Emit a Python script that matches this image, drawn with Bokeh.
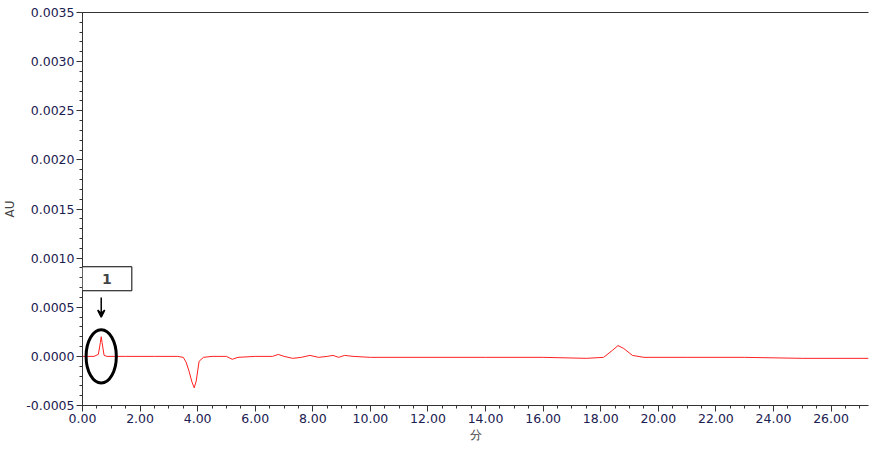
from bokeh.plotting import figure
from bokeh.models import (Range1d, SingleIntervalTicker, FixedTicker, PrintfTickFormatter, LinearAxis,
                          Label, Arrow, VeeHead, Ellipse, ColumnDataSource)
from bokeh.embed import file_html
from bokeh.resources import INLINE

# chromatogram trace (min, AU)
time = [0.0, 0.4, 0.55, 0.62, 0.65, 0.68, 0.75, 0.85, 1.5, 2.5, 3.3, 3.5, 3.6, 3.7, 3.8, 3.88,
        3.95, 4.05, 4.2, 4.5, 5.0, 5.2, 5.4, 6.0, 6.6, 6.8, 7.0, 7.3, 7.6, 7.9, 8.2, 8.5, 8.7,
        8.9, 9.1, 9.4, 10.0, 12.0, 14.0, 16.0, 17.5, 18.1, 18.4, 18.6, 18.8, 19.1, 19.5, 21.0,
        23.0, 25.0, 27.3]
au = [0.0, 0.0, 0.00002, 0.00014, 0.0002, 0.00014, 0.00001, 0.0, 0.0, 0.0, 0.0, -0.00001, -0.00006,
      -0.00015, -0.00026, -0.00032, -0.00025, -0.00005, -0.00001, 0.0, 0.0, -0.00003, -0.00001,
      0.0, 0.0, 0.00002, 0.0, -0.00002, -0.00001, 0.00001, -0.00001, 0.0, 0.00001, -0.00001,
      0.00001, 0.0, -0.00001, -0.00001, -0.00001, -0.00001, -0.00002, -0.00001, 0.00006,
      0.00011, 0.00008, 0.00001, -0.00001, -0.00001, -0.00001, -0.00002, -0.00002]

tick_color = "#1a2050"
font = "DejaVu Sans"

p = figure(width=871, height=445, output_backend="svg", toolbar_location=None,
           x_range=Range1d(0, 27.3), y_range=Range1d(-0.0005, 0.0035),
           min_border_left=74, min_border_top=5, min_border_right=3, min_border_bottom=40)
p.grid.visible = False
p.outline_line_color = None

p.line(time, au, color="#ff2020", line_width=1)

p.xaxis.ticker = SingleIntervalTicker(interval=2, num_minor_ticks=4)
p.yaxis.ticker = SingleIntervalTicker(interval=0.0005, num_minor_ticks=5)
p.xaxis.formatter = PrintfTickFormatter(format="%.2f")
p.yaxis.formatter = PrintfTickFormatter(format="%.4f")
for ax in (p.xaxis[0], p.yaxis[0]):
    ax.major_label_text_font = font
    ax.major_label_text_font_size = "12.5px"
    ax.major_label_text_color = tick_color
    ax.axis_label_text_font = font
    ax.axis_label_text_font_size = "12px"
    ax.axis_label_text_font_style = "normal"
    ax.axis_line_color = "#333333"
    ax.major_tick_line_color = "#333333"
    ax.minor_tick_line_color = "#333333"
    ax.major_tick_out = 6
    ax.major_tick_in = 0
    ax.minor_tick_out = 3
    ax.minor_tick_in = 0
    ax.major_label_standoff = 2
p.xaxis.axis_label = "分"
p.yaxis.axis_label = "AU"
p.xaxis.axis_label_standoff = 2
p.yaxis.axis_label_standoff = 6

top = LinearAxis(ticker=FixedTicker(ticks=[]), major_tick_line_color=None,
                 minor_tick_line_color=None, axis_line_color="#333333")
p.add_layout(top, "above")
p.min_border_top = 12

# annotation for peak 1
src = ColumnDataSource(dict(x=[0.65], y=[0.0]))
p.add_glyph(src, Ellipse(x="x", y="y", width=1.05, height=0.00054,
                         fill_color=None, line_color="black", line_width=3))
p.add_layout(Arrow(end=VeeHead(size=7, line_color="black", line_width=1.5),
                   x_start=0.65, y_start=0.0006, x_end=0.65, y_end=0.0004,
                   line_color="black", line_width=1.5))
p.add_layout(Label(x=0.85, y=0.00079, text="1", text_align="center", text_baseline="middle",
                   text_font=font, text_font_size="14px", text_font_style="bold",
                   border_line_color="black", padding=(20, 7),
                   background_fill_color="white"))

open("out.html", "w").write(file_html(p, INLINE))
